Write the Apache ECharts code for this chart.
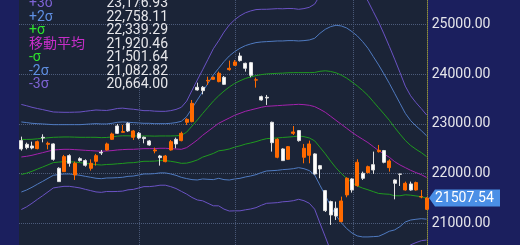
<!DOCTYPE html>
<html><head><meta charset="utf-8">
<script src="https://cdn.jsdelivr.net/npm/echarts@6/dist/echarts.min.js"></script>
<style>html,body{margin:0;padding:0;background:#1b1f5e;}#c{width:520px;height:245px;}</style>
</head><body><div id="c"></div><script>
// ---- data ----
const opens  = [22662,22588,22554,22501,22729,22588,22595,22106,22039,22360,21972,22300,22260,22106,22246,22427,22474,22688,22956,22829,23010,22729,22809,22729,22655,22454,22353,22240,22474,22688,22662,23030,23044,23734,23734,23861,23894,23848,23935,24089,24176,24363,24216,24229,23878,23546,23533,23030,22327,22494,22286,22809,22863,22327,22367,22394,22159,21657,21436,21302,21034,21570,21891,21757,22005,22018,22179,22441,22461,22119,21871,21990,21670,21791,21670,21530,21281];
const closes = [22494,22521,22514,22641,22715,22608,22286,21838,22340,22206,22206,22260,22166,22206,22360,22414,22595,22796,22809,22843,22856,22856,22715,22702,22574,22474,22320,22353,22641,22595,22809,23090,23412,23680,23667,23874,23935,24015,23794,24116,24243,24270,24116,23975,23884,23479,23519,22621,22688,22260,22541,22836,22662,22508,22595,21992,22092,21255,21168,21147,21449,21905,21670,22226,21905,22139,22072,22467,22226,22253,21804,21985,21804,21670,21818,21535,21507.54];
const lows   = [22461,22487,22487,22487,22628,22487,22260,21831,22032,22139,21871,22240,22139,22059,22159,22374,22461,22675,22796,22829,22836,22675,22688,22608,22561,22407,22159,22226,22461,22508,22648,22977,23030,23667,23593,23781,23881,23834,23781,24069,24162,24250,24049,23935,23727,23466,23379,22441,22307,22253,22273,22776,22641,22206,22206,21978,21905,21228,20967,21067,21020,21523,21616,21737,21871,22005,21992,22421,22206,22039,21482,21750,21657,21657,21657,21503,21268];
const highs  = [22742,22621,22641,22662,22789,22641,22608,22126,22374,22387,22240,22327,22286,22286,22394,22474,22621,22822,22997,22977,23030,22876,22836,22742,22675,22521,22374,22374,22675,22722,22843,23111,23479,23827,23760,23948,23948,24049,23961,24270,24283,24430,24229,24243,23928,23566,23580,23044,22709,22508,22554,22956,22876,22595,22662,22407,22173,21670,21456,21436,21536,21925,21905,22286,22039,22159,22441,22575,22474,22286,21884,21992,21838,21838,21838,21670,21523];
const maValues = [22333,22347,22367,22394,22420,22447,22474,22481,22487,22487,22481,22474,22467,22461,22454,22447,22454,22461,22474,22481,22487,22487,22494,22501,22501,22501,22508,22508,22501,22494,22487,22521,22595,22675,22769,22849,22930,23010,23064,23117,23171,23211,23251,23278,23305,23332,23352,23358,23365,23372,23379,23385,23392,23385,23372,23345,23292,23231,23151,23070,22990,22910,22829,22756,22689,22622,22541,22461,22394,22327,22240,22173,22119,22065,22019,21978,21920.46];
const upper2Values = [23037,23024,23010,23003,22997,22990,22983,22983,22983,22983,22983,22983,22990,22997,23003,22997,22997,23010,23030,23037,23030,23024,23017,23010,23010,23003,23003,23003,23010,23024,23050,23144,23312,23479,23647,23814,23982,24116,24250,24364,24451,24518,24571,24605,24632,24645,24652,24658,24665,24665,24672,24672,24665,24672,24685,24719,24819,24900,24953,24980,24967,24926,24853,24766,24652,24518,24350,24183,24002,23814,23613,23412,23211,23064,22957,22863,22758.11];
const bandLabels = ['+3σ','+2σ','+σ','移動平均','-σ','-2σ','-3σ'];
const bandK      = [3,2,1,0,-1,-2,-3];
const bandValues = [23176.93,22758.11,22339.29,21920.46,21501.64,21082.82,20664.00];
const gridLineIdx = [22.125,40.19,62.25];
const yMin = 20000, yMax = 26000, yStep = 1000;

// ---- styles ----
const bandColors = ['#6a52c4','#4f7ac0','#1f9a1f','#a322ad','#1f9a1f','#4f7ac0','#6a52c4'];
const labelColors = ['#7e63d4','#5f8fe2','#2ee02e','#c62ec8','#2ee02e','#5f8fe2','#7e63d4'];
const FONT = 'Roboto, "Noto Sans CJK JP", sans-serif';

const sd = maValues.map((m,i)=>(upper2Values[i]-m)/2);
const bandSeries = bandK.map((k,j)=>({
  type:'line', name:bandLabels[j], showSymbol:false, silent:true, z:2,
  lineStyle:{color:bandColors[j], width:1},
  data: maValues.map((m,i)=>[i, m + k*sd[i]])
}));

const chart = echarts.init(document.getElementById('c'), null, {renderer:'canvas'});
const option = {
  backgroundColor:'#1b1f5e',
  animation:false,
  grid:{left:19, right:92.3, top:-25.45, bottom:-28.05, show:true, backgroundColor:'#1b2437', borderWidth:0,
        containLabel:false, outerBoundsMode:'none'},
  xAxis:{type:'value', min:-0.44, max:76.2, show:false, splitLine:{show:false}},
  yAxis:{type:'value', position:'right', min:yMin, max:yMax, interval:yStep,
    axisLine:{show:true, onZero:false, lineStyle:{color:'#8f8f3e', type:'dotted', width:1}},
    axisTick:{show:false},
    axisLabel:{color:'#e6e6ea', fontSize:14, fontFamily:FONT, margin:4, formatter:v=>v.toFixed(2)},
    splitLine:{show:true, lineStyle:{color:'#4c5b7a', type:'dotted', width:1}}
  },
  series:[
    ...bandSeries,
    {type:'candlestick', z:5, barWidth:3.6,
     encode:{x:0, y:[1,2,3,4]},
     data: opens.map((o,i)=>[i, o, closes[i], lows[i], highs[i]]),
     itemStyle:{color:'#ff6a00', color0:'#ffffff', borderColor:'#ff6a00', borderColor0:'#e0e0e0', borderWidth:1},
     markLine:{silent:true, symbol:['none','none'], label:{show:false}, animation:false,
       lineStyle:{color:'#4c5b7a', type:'dotted', width:1},
       data: gridLineIdx.map(v=>({xAxis:v}))}
    }
  ]
};
chart.setOption(option);

// legend text + last price tag
const last = closes.length-1;
const py = chart.convertToPixel({yAxisIndex:0}, closes[last]);
const graphics = [];
bandLabels.forEach((lab,j)=>{
  const y = 3.5 + j*13.5;
  graphics.push({type:'text', z:20, x:29, y:y, style:{text:lab, fill:labelColors[j], font:'14px '+FONT, verticalAlign:'middle'}});
  graphics.push({type:'text', z:20, x:168, y:y, style:{text:bandValues[j].toLocaleString('en-US',{minimumFractionDigits:2,maximumFractionDigits:2}), fill:'#e6e6ea', font:'14px '+FONT, align:'right', verticalAlign:'middle'}});
});
graphics.push({type:'polygon', z:20, shape:{points:[[429,py],[435,py-8.5],[500,py-8.5],[500,py+8.5],[435,py+8.5]]}, style:{fill:'#4a8fe6'}});
graphics.push({type:'text', z:21, x:435, y:py, style:{text:closes[last].toFixed(2), fill:'#ffffff', font:'14px '+FONT, verticalAlign:'middle'}});
chart.setOption({graphic:graphics});
</script></body></html>
